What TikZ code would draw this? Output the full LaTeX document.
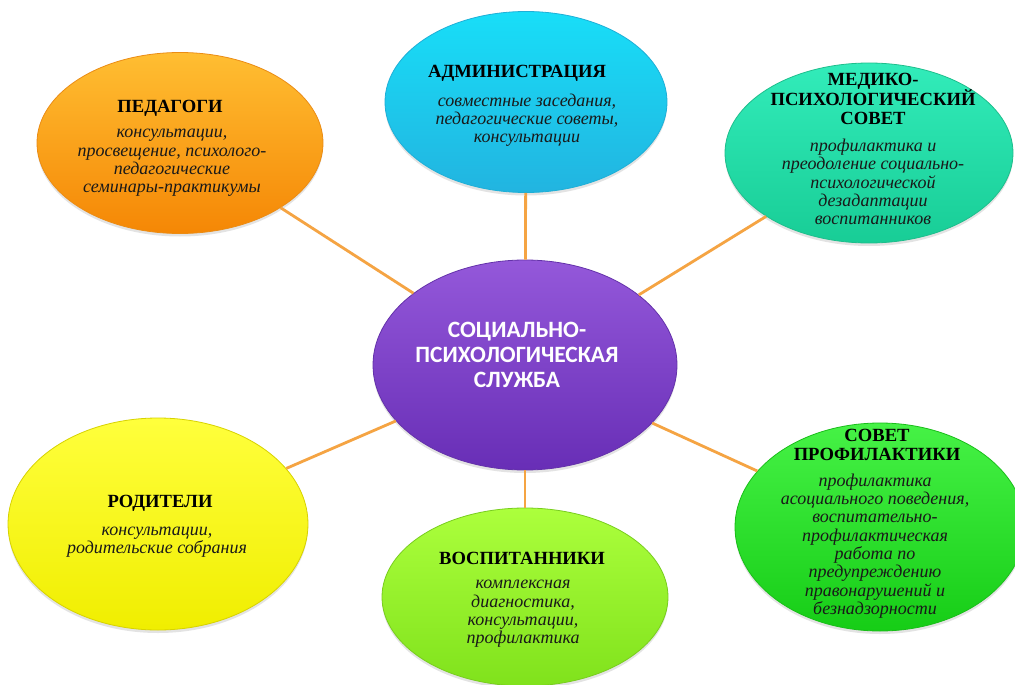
\documentclass[tikz,border=0pt]{standalone}
\usepackage{fontspec}
\setmainfont{Liberation Serif}
\newfontfamily\centerfont{Carlito}
\usetikzlibrary{shapes.geometric,shadows}
\definecolor{linkc}{HTML}{F5A443}
\begin{document}
\begin{tikzpicture}[x=1pt,y=-1pt,
  bubble/.style={ellipse, inner sep=0pt, line width=0.8pt,
    drop shadow={shadow xshift=0pt, shadow yshift=-3pt, opacity=0.22}},
  conn/.style={draw=linkc, line width=2.8pt},
  ttl/.style={font=\bfseries\fontsize{18.6}{19}\selectfont, align=center, text=black, inner sep=0pt},
  dsc/.style={font=\itshape\fontsize{18}{18.3}\selectfont, align=center, text=black!90, inner sep=0pt},
  ctr/.style={font=\centerfont\bfseries\fontsize{23.4}{25}\selectfont, align=center, text=white, inner sep=0pt}]
\fill[white] (0,0) rectangle (1015,685);
\useasboundingbox (0,0) rectangle (1015,685);

% ellipses
\node[bubble, minimum width=286pt, minimum height=181pt, top color={rgb,255:red,255;green,190;blue,50}, bottom color={rgb,255:red,245;green,135;blue,5}, draw={rgb,255:red,235;green,140;blue,20}] (ped) at (180,143) {};
\node[bubble, minimum width=282pt, minimum height=181pt, top color={rgb,255:red,24;green,222;blue,248}, bottom color={rgb,255:red,34;green,180;blue,224}, draw={rgb,255:red,30;green,175;blue,215}] (adm) at (526,102) {};
\node[bubble, minimum width=288pt, minimum height=180pt, top color={rgb,255:red,50;green,236;blue,186}, bottom color={rgb,255:red,24;green,205;blue,150}, draw={rgb,255:red,30;green,190;blue,140}] (med) at (869,153) {};
\node[bubble, minimum width=304pt, minimum height=210pt, top color={rgb,255:red,148;green,88;blue,218}, bottom color={rgb,255:red,104;green,46;blue,182}, draw={rgb,255:red,100;green,50;blue,170}] (c) at (525,365) {};
\node[bubble, minimum width=300pt, minimum height=212pt, top color={rgb,255:red,255;green,255;blue,60}, bottom color={rgb,255:red,240;green,238;blue,0}, draw={rgb,255:red,215;green,210;blue,0}] (rod) at (158,524) {};
\node[bubble, minimum width=286pt, minimum height=178pt, top color={rgb,255:red,172;green,255;blue,60}, bottom color={rgb,255:red,128;green,226;blue,28}, draw={rgb,255:red,120;green,205;blue,30}] (vos) at (525,597) {};
\node[bubble, minimum width=290pt, minimum height=208pt, top color={rgb,255:red,70;green,242;blue,70}, bottom color={rgb,255:red,22;green,205;blue,22}, draw={rgb,255:red,25;green,190;blue,25}] (sov) at (880,527) {};

% connectors (drawn between node borders)
\draw[conn] (c) -- (ped);
\draw[conn] (c) -- (adm);
\draw[conn] (c) -- (med);
\draw[conn] (c) -- (rod);
\draw[conn] (c) -- (vos);
\draw[conn] (c) -- (sov);

% texts
\node[ttl] (pedT) at (170,108) {ПЕДАГОГИ};
\node[dsc] (pedD) at (172,163) {консультации,\\просвещение, психолого-\\педагогические\\семинары-практикумы};

\node[ttl] (admT) at (517,73) {АДМИНИСТРАЦИЯ};
\node[dsc] (admD) at (527,120) {совместные заседания,\\педагогические советы,\\консультации};

\node[ttl] (medT) at (873,99) {МЕДИКО-\\ПСИХОЛОГИЧЕСКИЙ\\СОВЕТ};
\node[dsc] (medD) at (873,182) {профилактика и\\преодоление социально-\\психологической\\дезадаптации\\воспитанников};

\node[ctr] (cT) at (517,355) {СОЦИАЛЬНО-\\ПСИХОЛОГИЧЕСКАЯ\\СЛУЖБА};

\node[ttl] (rodT) at (160,503) {РОДИТЕЛИ};
\node[dsc] (rodD) at (157,542) {консультации,\\родительские собрания};

\node[ttl] (vosT) at (522,558) {ВОСПИТАННИКИ};
\node[dsc] (vosD) at (523,614) {комплексная\\диагностика,\\консультации,\\профилактика};

\node[ttl] (sovT) at (877,445) {СОВЕТ\\ПРОФИЛАКТИКИ};
\node[dsc] (sovD) at (875,546) {профилактика\\асоциального поведения,\\воспитательно-\\профилактическая\\работа по\\предупреждению\\правонарушений и\\безнадзорности};
\end{tikzpicture}
\end{document}
